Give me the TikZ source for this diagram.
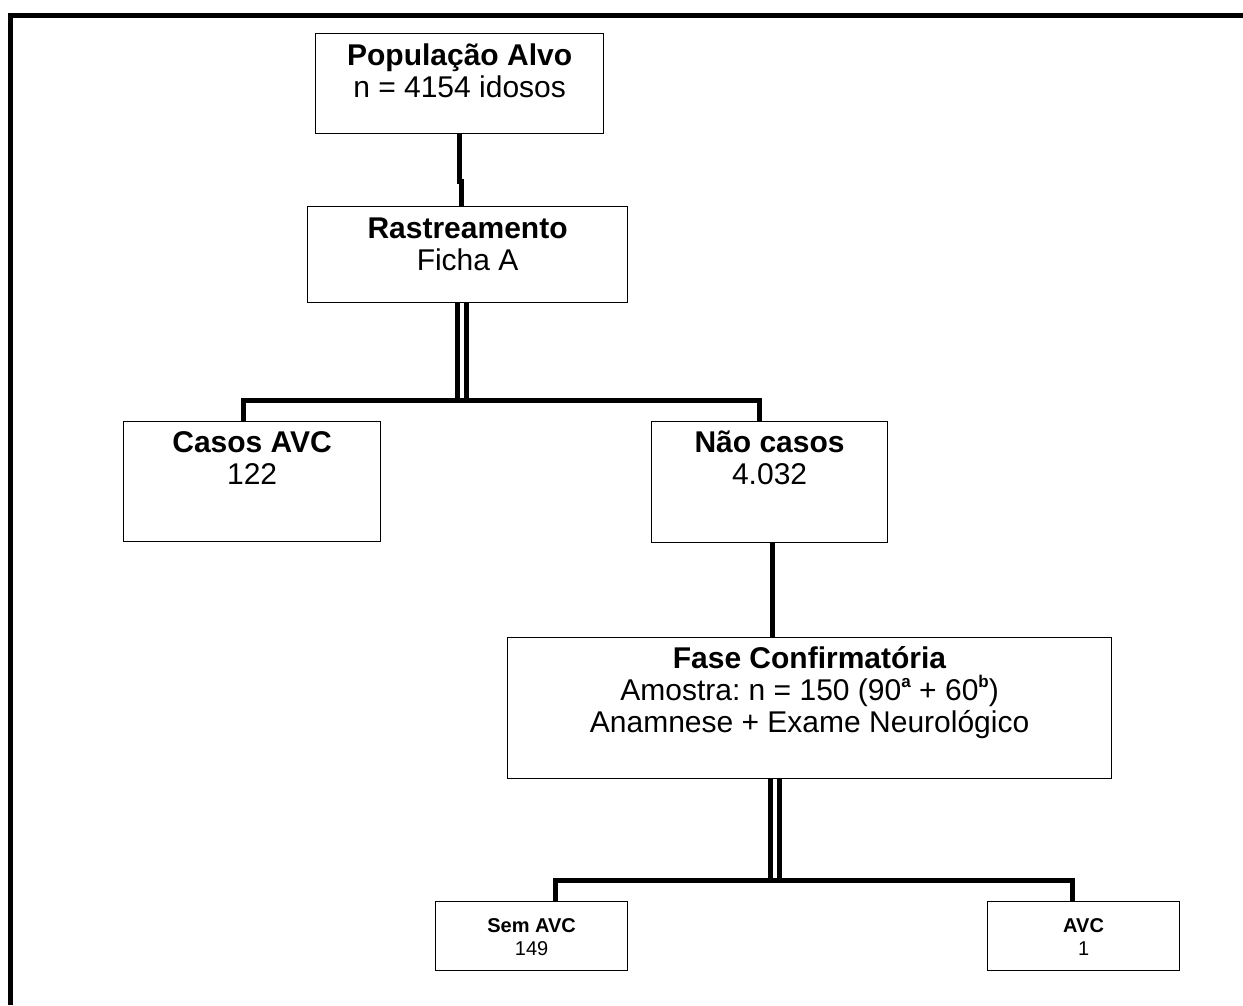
\documentclass[tikz,border=0pt]{standalone}
\usepackage{fontspec}
\setmainfont{Liberation Sans}
\newcommand{\supx}[1]{\raisebox{0.42em}{\fontsize{17}{17}\selectfont\textbf{#1}}}
\begin{document}
\frenchspacing
\begin{tikzpicture}[x=1pt,y=-1pt,
  box/.style={draw, line width=1.2pt, anchor=north west, inner sep=0pt},
  big/.style={font=\fontsize{30}{32}\selectfont, anchor=north, align=center, inner sep=0pt},
  small/.style={font=\fontsize{20}{23}\selectfont, anchor=north, align=center, inner sep=0pt},
  conn/.style={line width=5pt},
  dbl/.style={line width=5pt, double=white, double distance=3.5pt},
]
\useasboundingbox (0,0) rectangle (1243,1005);
\fill[white] (0,0) rectangle (1243,1005);
% frame (top and left only)
\draw[line width=5pt] (10.5,1005) -- (10.5,15.5) -- (1243,15.5);

% boxes
\node[box, minimum width=288pt, minimum height=100pt] (p) at (315,33) {};
\node[box, minimum width=320pt, minimum height=96pt]  (r) at (307,206) {};
\node[box, minimum width=257pt, minimum height=120pt] (c) at (123,421) {};
\node[box, minimum width=236pt, minimum height=121pt] (n) at (651,421) {};
\node[box, minimum width=604pt, minimum height=141pt] (f) at (507,637) {};
\node[box, minimum width=192pt, minimum height=69pt]  (s) at (435,901) {};
\node[box, minimum width=192pt, minimum height=69pt]  (a) at (987,901) {};

% texts
\node[big] (pt) at ([yshift=-10pt]p.north) {\rule{0pt}{22pt}\textbf{População Alvo}\\n = 4154 idosos};
\node[big] (rt) at ([yshift=-10pt]r.north) {\rule{0pt}{22pt}\textbf{Rastreamento}\\Ficha A};
\node[big] (ct) at ([yshift=-9pt]c.north) {\rule{0pt}{22pt}\textbf{Casos AVC}\\122};
\node[big] (nt) at ([yshift=-9pt]n.north) {\rule{0pt}{22pt}\textbf{Não casos}\\4.032};
\node[big] (ft) at ([yshift=-9pt]f.north) {\rule{0pt}{22pt}\textbf{Fase Confirmatória}\\Amostra: n = 150 (90\supx{a} + 60\supx{b})\\Anamnese + Exame Neurológico};
\node[small] (st) at ([yshift=-15pt]s.north) {\rule{0pt}{16pt}\textbf{Sem AVC}\\149};
\node[small] (at) at ([yshift=-15pt]a.north) {\rule{0pt}{16pt}\textbf{AVC}\\1};

% connectors
\coordinate (j1) at (462,400);
\coordinate (j2) at (775,880);
\draw[conn] (p.south) -- ++(0,47) -- ++(2,0) coordinate (k) -- (k |- r.north);
\draw[dbl] (j1 |- r.south) -- (j1);
\draw[conn] ([xshift=-8.5pt]c.north) |- (j1) -| ([xshift=-10pt]n.north);
\draw[conn] ([xshift=3pt]n.south) -- ([xshift=3pt]n.south |- f.north);
\draw[dbl] (j2 |- f.south) -- (j2);
\draw[conn] ([xshift=24pt]s.north) |- (j2) -| ([xshift=-11pt]a.north);
\end{tikzpicture}
\end{document}
